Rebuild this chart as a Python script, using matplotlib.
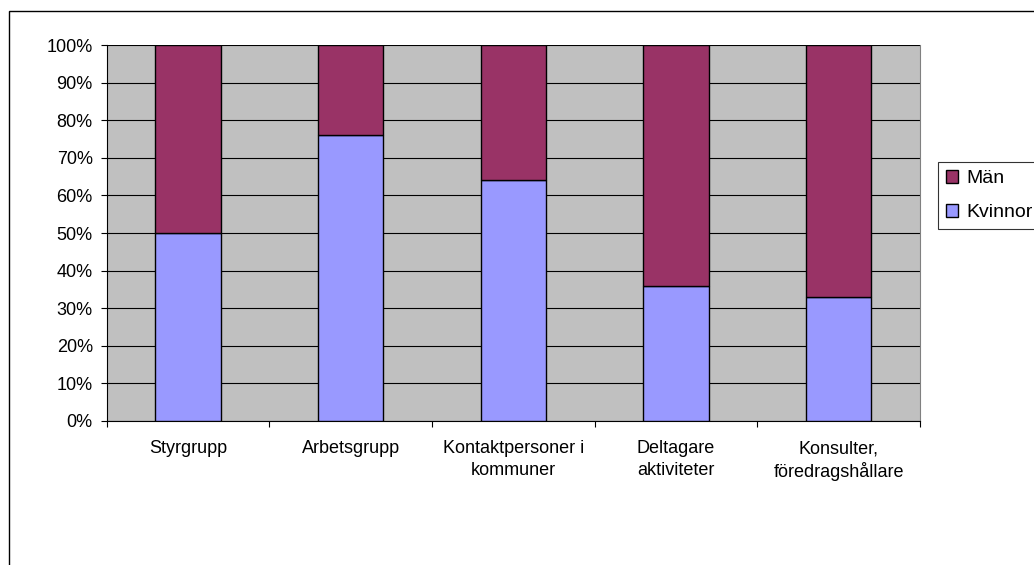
import numpy as np
import matplotlib
matplotlib.use("Agg")
import matplotlib.pyplot as plt
from matplotlib.patches import Patch, Rectangle
from matplotlib.ticker import PercentFormatter, FixedLocator

categories = ["Styrgrupp", "Arbetsgrupp", "Kontaktpersoner i\nkommuner",
              "Deltagare\naktiviteter", "Konsulter,\nföredragshållare"]
kvinnor = [50, 76, 64, 36, 33]
man = [100 - v for v in kvinnor]

plt.rcParams["font.family"] = ["Liberation Sans", "DejaVu Sans"]

fig = plt.figure(figsize=(10.34, 5.65), dpi=100)
W, H = 1034, 565
# axes placed in pixel coords of the reference
left, right, top, bottom = 106.7, 920, 45.3, 420.7
ax = fig.add_axes([left / W, 1 - bottom / H, (right - left) / W, (bottom - top) / H])

# outer chart frame (cropped on right/bottom in reference)
fig.patches.append(Rectangle((9 / W, -0.1), 1.2, 1 - 11 / H + 0.1,
                             transform=fig.transFigure, fill=False,
                             edgecolor="black", linewidth=1.0))

x = np.arange(len(categories))
ax.bar(x, kvinnor, width=0.4, color="#9999FF", edgecolor="black", linewidth=1.0, zorder=3)
ax.bar(x, man, width=0.4, bottom=kvinnor, color="#993366", edgecolor="black",
       linewidth=1.0, zorder=3)

ax.set_facecolor("#C0C0C0")
ax.set_xlim(-0.5, len(categories) - 0.5)
ax.set_ylim(0, 100)
ax.set_yticks(np.arange(0, 101, 10))
ax.yaxis.set_major_formatter(PercentFormatter(decimals=0))
ax.grid(axis="y", color="black", linewidth=0.8, zorder=1)

ax.set_xticks(x)
ax.set_xticklabels(categories, fontsize=13, linespacing=1.35)
ax.xaxis.set_minor_locator(FixedLocator(np.arange(-0.5, len(categories), 1.0)))
ax.tick_params(axis="x", which="major", length=0, pad=14)
ax.tick_params(axis="x", which="minor", length=4, width=0.8, direction="out")
ax.tick_params(axis="y", length=4, width=0.8, labelsize=13, pad=6)

ax.spines["top"].set_visible(False)
ax.spines["right"].set_color("#808080")
ax.spines["left"].set_linewidth(0.8)
ax.spines["bottom"].set_linewidth(0.8)

handles = [Patch(facecolor="#993366", edgecolor="black", label="Män"),
           Patch(facecolor="#9999FF", edgecolor="black", label="Kvinnor")]
leg = fig.legend(handles=handles, loc="upper left",
                 bbox_to_anchor=(938 / W, 1 - 162 / H),
                 frameon=True, fancybox=False, fontsize=14,
                 handlelength=0.65, handleheight=0.65, handletextpad=0.4,
                 borderpad=0.4, labelspacing=0.85, borderaxespad=0)
leg.get_frame().set_edgecolor("black")
leg.get_frame().set_linewidth(0.8)

fig.savefig("out.png", dpi=100)
